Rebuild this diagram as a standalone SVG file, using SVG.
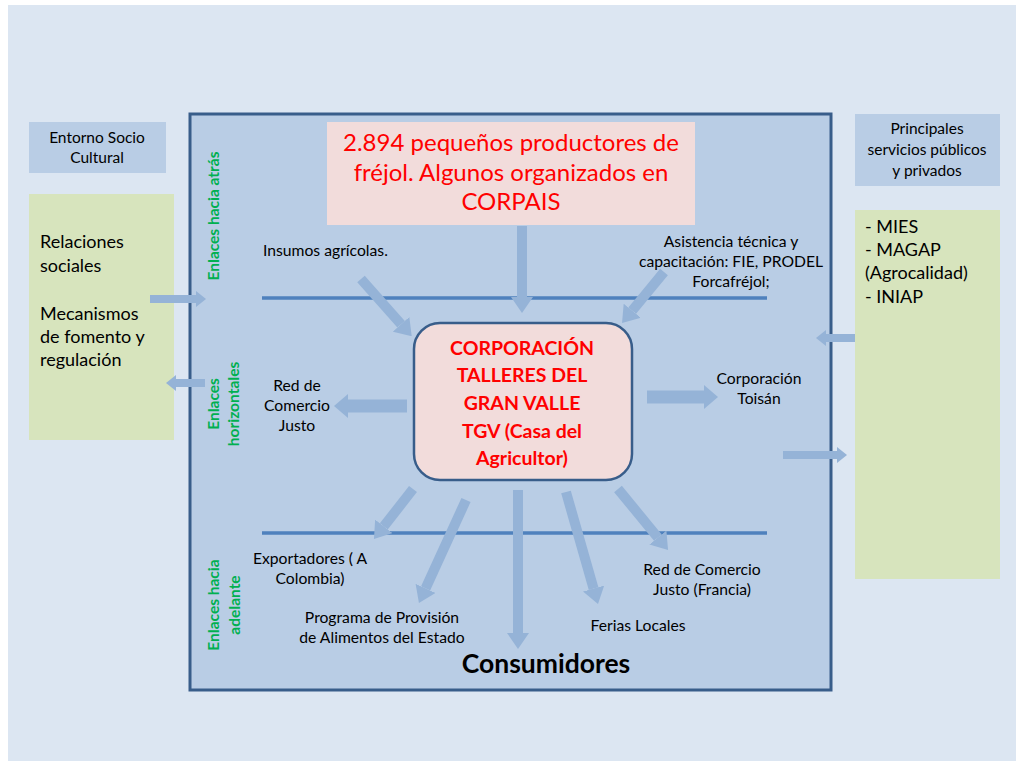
<svg xmlns="http://www.w3.org/2000/svg" width="1016" height="761" viewBox="0 0 1016 761">
<defs>
<style>
text{font-family:Lato,"Liberation Sans",sans-serif;fill:#000}
.b16{font-size:15.7px}
.c{text-anchor:middle}
.red{fill:#ff0000}
.grn{fill:#00b050;font-weight:bold;font-size:15.5px;text-anchor:middle}
.hdr{fill:#b9cde5}
.gbox{fill:#d7e4bd}
.arrS{stroke:#95b3d7;stroke-width:8;fill:none;marker-end:url(#mS)}
.arrM{stroke:#95b3d7;stroke-width:10;fill:none;marker-end:url(#mM)}
.arrB{stroke:#95b3d7;stroke-width:13;fill:none;marker-end:url(#mB)}
.sep{stroke:#4f81bd;stroke-width:3.5}
</style>
<marker id="mS" markerUnits="userSpaceOnUse" viewBox="0 -8 10 16" markerWidth="10" markerHeight="16" refX="0" refY="0" orient="auto"><path d="M0,-8 L10,0 L0,8 Z" fill="#95b3d7"/></marker>
<marker id="mM" markerUnits="userSpaceOnUse" viewBox="0 -11 16 22" markerWidth="16" markerHeight="22" refX="0" refY="0" orient="auto"><path d="M0,-11 L16,0 L0,11 Z" fill="#95b3d7"/></marker>
<marker id="mB" markerUnits="userSpaceOnUse" viewBox="0 -12 14 24" markerWidth="14" markerHeight="24" refX="0" refY="0" orient="auto"><path d="M0,-12 L14,0 L0,12 Z" fill="#95b3d7"/></marker>
</defs>
<rect x="0" y="0" width="1016" height="761" fill="#ffffff"/>
<rect x="8" y="5" width="1008" height="756" fill="#dce6f2"/>

<g id="main-frame">
<rect x="190" y="114" width="641" height="576" fill="#b9cde5" stroke="#385d8a" stroke-width="3"/>
<line class="sep" x1="262" y1="298" x2="767" y2="298"/>
<line class="sep" x1="262" y1="533" x2="767" y2="533"/>
</g>

<g id="label-enlaces-atras"><text class="grn" transform="translate(219,216) rotate(-90)">Enlaces hacia atrás</text></g>
<g id="label-enlaces-horizontales"><text class="grn" transform="translate(219,404) rotate(-90)"><tspan x="0" y="0">Enlaces</tspan><tspan x="0" y="20">horizontales</tspan></text></g>
<g id="label-enlaces-adelante"><text class="grn" transform="translate(219,605) rotate(-90)"><tspan x="0" y="0">Enlaces hacia</tspan><tspan x="0" y="21">adelante</tspan></text></g>

<g id="node-entorno-header">
<rect class="hdr" x="29" y="122" width="137" height="51"/>
<text class="c" font-size="15.5" x="97" y="143">Entorno Socio</text>
<text class="c" font-size="15.5" x="97" y="163">Cultural</text>
</g>
<g id="node-entorno">
<rect class="gbox" x="29" y="194" width="145" height="246"/>
<text font-size="18" x="40" y="248">Relaciones</text>
<text font-size="18" x="40" y="272">sociales</text>
<text font-size="18" x="40" y="320">Mecanismos</text>
<text font-size="18" x="40" y="343">de fomento y</text>
<text font-size="18" x="40" y="366">regulación</text>
</g>

<g id="node-servicios-header">
<rect class="hdr" x="855" y="114" width="145" height="72"/>
<text class="c" font-size="15.5" x="927" y="134">Principales</text>
<text class="c" font-size="15.5" x="927" y="155">servicios públicos</text>
<text class="c" font-size="15.5" x="927" y="176">y privados</text>
</g>
<g id="node-servicios">
<rect class="gbox" x="855" y="210" width="145" height="369"/>
<text font-size="18" x="865" y="233">- MIES</text>
<text font-size="18" x="865" y="256">- MAGAP</text>
<text font-size="18" x="865" y="279">(Agrocalidad)</text>
<text font-size="18" x="865" y="303">- INIAP</text>
</g>

<g id="node-productores">
<rect x="327" y="122" width="368" height="103" fill="#f2dcdb"/>
<text class="c red" font-size="24" x="511" y="151">2.894 pequeños productores  de</text>
<text class="c red" font-size="24" x="511" y="181">fréjol. Algunos organizados en</text>
<text class="c red" font-size="24" x="511" y="210">CORPAIS</text>
</g>

<g id="node-tgv">
<rect x="414" y="323" width="218" height="157" rx="26" ry="26" fill="#f2dcdb" stroke="#385d8a" stroke-width="2.5"/>
<text class="c red" font-size="19.5" font-weight="bold" x="522" y="355">CORPORACIÓN</text>
<text class="c red" font-size="19.5" font-weight="bold" x="522" y="382">TALLERES DEL</text>
<text class="c red" font-size="19.5" font-weight="bold" x="522" y="410">GRAN VALLE</text>
<text class="c red" font-size="19.5" font-weight="bold" x="522" y="438">TGV (Casa del</text>
<text class="c red" font-size="19.5" font-weight="bold" x="522" y="465">Agricultor)</text>
</g>

<g id="node-insumos"><text class="b16" x="263" y="256">Insumos agrícolas.</text></g>
<g id="node-asistencia">
<text class="b16 c" x="731" y="247">Asistencia técnica y</text>
<text class="b16 c" x="731" y="267">capacitación: FIE, PRODEL</text>
<text class="b16 c" x="731" y="287">Forcafréjol;</text>
</g>
<g id="node-red-comercio-justo">
<text class="b16 c" x="297" y="391">Red de</text>
<text class="b16 c" x="297" y="411">Comercio</text>
<text class="b16 c" x="297" y="431">Justo</text>
</g>
<g id="node-toisan">
<text class="b16 c" x="759" y="384">Corporación</text>
<text class="b16 c" x="759" y="404">Toisán</text>
</g>
<g id="node-exportadores">
<text class="b16 c" x="310" y="564">Exportadores ( A</text>
<text class="b16 c" x="310" y="584">Colombia)</text>
</g>
<g id="node-programa">
<text class="b16 c" x="382" y="623">Programa de Provisión</text>
<text class="b16 c" x="382" y="643">de Alimentos del Estado</text>
</g>
<g id="node-ferias"><text class="b16 c" x="638" y="631">Ferias Locales</text></g>
<g id="node-red-francia">
<text class="b16 c" x="702" y="575">Red de Comercio</text>
<text class="b16 c" x="702" y="595">Justo (Francia)</text>
</g>
<g id="node-consumidores"><text class="c" font-size="26.5" font-weight="bold" x="546" y="673">Consumidores</text></g>

<g id="connectors">
<line class="arrS" x1="150" y1="299" x2="196" y2="299"/>
<line class="arrS" x1="205" y1="383" x2="176" y2="383"/>
<line class="arrS" x1="855" y1="338" x2="826" y2="338"/>
<line class="arrS" x1="783" y1="455" x2="837" y2="455"/>
<line class="arrM" x1="522" y1="226" x2="522" y2="297"/>
<line class="arrM" x1="361" y1="279" x2="401.1" y2="324.3"/>
<line class="arrM" x1="664" y1="272" x2="632.2" y2="310.7"/>
<line class="arrB" x1="407" y1="406" x2="348" y2="406"/>
<line class="arrB" x1="647" y1="397" x2="704" y2="397"/>
<line class="arrM" x1="413" y1="489" x2="383.8" y2="526.4"/>
<line class="arrM" x1="466" y1="500" x2="425.6" y2="588.4"/>
<line class="arrM" x1="518" y1="490" x2="518" y2="633"/>
<line class="arrM" x1="566" y1="492" x2="593.6" y2="588.6"/>
<line class="arrM" x1="618" y1="489" x2="657.9" y2="537.6"/>
</g>
</svg>
